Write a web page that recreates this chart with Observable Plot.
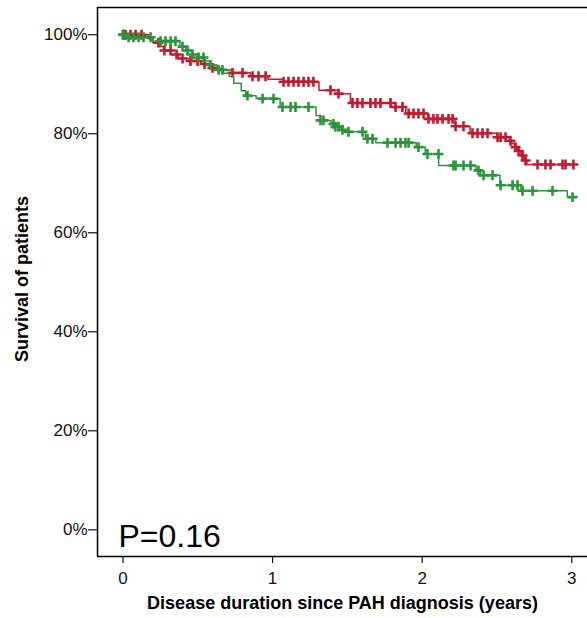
<!DOCTYPE html>
<html>
<head>
<meta charset="utf-8">
<script src="https://cdn.jsdelivr.net/npm/d3@7"></script>
<script src="https://cdn.jsdelivr.net/npm/@observablehq/plot@0.6"></script>
<style>
  html, body { margin: 0; padding: 0; background: #fff; }
  #chart svg { display: block; }
</style>
</head>
<body>
<div id="chart"></div>
<script>
// Kaplan-Meier step data (time in years, survival in %)
const redTimes = [0, 0.17, 0.20, 0.24, 0.27, 0.32, 0.37, 0.45, 0.52, 0.58, 0.65, 0.73, 0.85, 0.97, 1.07, 1.31, 1.44, 1.52, 1.79, 1.89, 2.04, 2.22, 2.32, 2.50, 2.56, 2.60, 2.62, 2.64, 2.66, 2.68, 2.70, 3.03];
const redSurv  = [100, 99.2, 98.4, 97.6, 96.8, 96.0, 95.2, 94.7, 94.1, 93.3, 92.9, 92.3, 91.6, 91.0, 90.5, 88.8, 88.1, 86.2, 85.4, 84.1, 83.0, 81.5, 80.1, 79.3, 78.6, 78.0, 77.3, 76.5, 75.6, 74.6, 73.8, 73.8];
const redCensor = [0.0, 0.017, 0.05, 0.084, 0.124, 0.237, 0.277, 0.318, 0.358, 0.398, 0.451, 0.498, 0.545, 0.598, 0.732, 0.799, 0.866, 0.906, 0.953, 1.073, 1.106, 1.140, 1.173, 1.207, 1.240, 1.273, 1.387, 1.441, 1.534, 1.567, 1.601, 1.654, 1.688, 1.721, 1.788, 1.822, 1.868, 1.909, 1.942, 1.975, 2.009, 2.042, 2.075, 2.102, 2.136, 2.176, 2.203, 2.223, 2.276, 2.336, 2.370, 2.403, 2.437, 2.504, 2.524, 2.557, 2.590, 2.624, 2.644, 2.671, 2.691, 2.771, 2.824, 2.858, 2.938, 2.958, 3.011];

const greenTimes = [0, 0.03, 0.20, 0.38, 0.42, 0.46, 0.50, 0.54, 0.58, 0.63, 0.67, 0.71, 0.74, 0.79, 0.82, 0.89, 1.05, 1.29, 1.32, 1.39, 1.42, 1.46, 1.49, 1.62, 1.69, 1.96, 2.02, 2.11, 2.36, 2.39, 2.52, 2.66, 2.97, 3.0];
const greenSurv  = [100, 99.5, 98.7, 97.6, 96.8, 96.0, 95.4, 94.7, 93.9, 92.9, 92.2, 91.6, 90.2, 88.7, 87.7, 87.1, 85.4, 83.7, 82.7, 82.0, 81.4, 80.8, 80.4, 79.0, 78.2, 77.3, 75.9, 73.6, 72.6, 71.6, 69.6, 68.5, 67.2, 67.2];
const greenCensor = [0.0, 0.003, 0.037, 0.070, 0.104, 0.137, 0.184, 0.251, 0.284, 0.318, 0.351, 0.398, 0.431, 0.465, 0.505, 0.538, 0.585, 0.639, 0.665, 0.832, 0.933, 1.006, 1.066, 1.120, 1.153, 1.240, 1.320, 1.340, 1.407, 1.420, 1.441, 1.467, 1.507, 1.601, 1.634, 1.668, 1.768, 1.822, 1.855, 1.888, 1.909, 1.975, 2.035, 2.109, 2.209, 2.223, 2.276, 2.323, 2.376, 2.410, 2.470, 2.524, 2.604, 2.637, 2.671, 2.738, 2.871, 3.005];

const xTicks = [0, 1, 2, 3];
const yTicks = [0, 20, 40, 60, 80, 100];
const xLabel = "Disease duration since PAH diagnosis (years)";
const yLabel = "Survival of patients";
const pText = "P=0.16";

const RED = "#c4192f";
const GREEN = "#2a963a";

function steps(times, surv) { return times.map((t, i) => ({t, s: surv[i]})); }
function survAt(times, surv, t) {
  let s = surv[0];
  for (let i = 0; i < times.length; i++) { if (times[i] <= t) s = surv[i]; else break; }
  return s;
}
const redLine = steps(redTimes, redSurv);
const greenLine = steps(greenTimes, greenSurv);
const redMarks = redCensor.map(t => ({t, s: survAt(redTimes, redSurv, t)}));
const greenMarks = greenCensor.map(t => ({t, s: survAt(greenTimes, greenSurv, t)}));

const xDom = [-0.1705, 3.105];
const yDom = [-5.39, 105.5];

const chart = Plot.plot({
  width: 587,
  height: 618,
  marginLeft: 97,
  marginRight: 0,
  marginTop: 7,
  marginBottom: 62,
  style: { fontFamily: "'Liberation Sans', Arial, Helvetica, sans-serif", fontSize: "17px", color: "#111", background: "#fff" },
  x: { domain: xDom },
  y: { domain: yDom },
  marks: [
    Plot.axisY({ ticks: yTicks, tickFormat: d => d + "%", tickSize: 9, tickPadding: 1, fontSize: 17, label: null, strokeWidth: 1.2 }),
    Plot.axisX({ ticks: xTicks, tickFormat: d => String(d), tickSize: 7, tickPadding: 8, fontSize: 17, label: null, strokeWidth: 1.2 }),
    Plot.ruleX([xDom[0]], { stroke: "#000", strokeWidth: 1.5 }),
    Plot.ruleY([yDom[0]], { stroke: "#000", strokeWidth: 1.5 }),
    Plot.ruleY([yDom[1]], { stroke: "#000", strokeWidth: 1.5 }),
    Plot.line(redLine, { x: "t", y: "s", curve: "step-after", stroke: RED, strokeWidth: 1.5 }),
    Plot.dot(redMarks, { x: "t", y: "s", symbol: "plus", r: 3.3, stroke: RED, strokeWidth: 2.6 }),
    Plot.line(greenLine, { x: "t", y: "s", curve: "step-after", stroke: GREEN, strokeWidth: 1.5 }),
    Plot.dot(greenMarks, { x: "t", y: "s", symbol: "plus", r: 3.3, stroke: GREEN, strokeWidth: 2.6 }),
    Plot.text([pText], { frameAnchor: "bottom-left", textAnchor: "start", lineAnchor: "bottom", dx: 21, dy: -10, fontSize: 32, fill: "#000" }),
    Plot.text([xLabel], { frameAnchor: "bottom", textAnchor: "middle", dy: 52, fontSize: 18, fontWeight: "bold", fill: "#000" }),
    Plot.text([yLabel], { frameAnchor: "left", textAnchor: "middle", lineAnchor: "middle", dx: -75.5, dy: -3, rotate: -90, fontSize: 18, fontWeight: "bold", fill: "#000" })
  ]
});
document.getElementById("chart").appendChild(chart);
</script>
</body>
</html>
